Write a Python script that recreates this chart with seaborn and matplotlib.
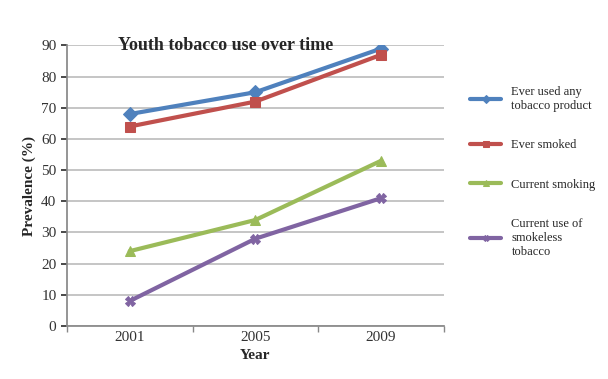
import matplotlib
matplotlib.use("Agg")
import matplotlib.pyplot as plt
import seaborn as sns
import pandas as pd

years = ["2001", "2005", "2009"]
ever_used_any = [68, 75, 89]
ever_smoked = [64, 72, 87]
current_smoking = [24, 34, 53]
current_smokeless = [8, 28, 41]
series_names = ["Ever used any\ntobacco product", "Ever smoked", "Current smoking",
                "Current use of\nsmokeless\ntobacco"]
yticks = list(range(0, 100, 10))

rows = []
for name, vals in zip(series_names, [ever_used_any, ever_smoked, current_smoking, current_smokeless]):
    for i, (yr, v) in enumerate(zip(years, vals)):
        rows.append({"Year": yr, "x": i, "Prevalence": v, "Series": name})
df = pd.DataFrame(rows)

sns.set_theme(style="white")
plt.rcParams['font.family'] = ['Liberation Serif', 'DejaVu Serif']

colors = ["#4F81BD", "#C0504D", "#9BBB59", "#8064A2"]
markers = ["D", "s", "^", "X"]

fig, ax = plt.subplots(figsize=(6.08, 3.79), dpi=100)
fig.subplots_adjust(left=0.11, right=0.73, top=0.88, bottom=0.14)

sns.lineplot(data=df, x="x", y="Prevalence", hue="Series", style="Series",
             palette=colors, markers=markers, dashes=False, linewidth=3,
             markersize=7, ax=ax, markeredgecolor=None)

ax.set_xlim(-0.5, 2.5)
ax.set_ylim(0, 90)
ax.set_yticks(yticks)
ax.set_xticks(range(len(years)))
ax.set_xticklabels(years)
ax.set_xticks([-0.5, 0.5, 1.5, 2.5], minor=True)
ax.tick_params(axis='x', which='minor', length=4, color='#888888', bottom=True)
ax.tick_params(axis='x', which='major', length=0)
ax.tick_params(axis='y', length=4, color='#888888', left=True)
ax.tick_params(labelsize=11, colors='#333333')
ax.yaxis.grid(True, color='#BBBBBB', linewidth=1.2)
for s in ["top", "right"]:
    ax.spines[s].set_visible(False)
for s in ["left", "bottom"]:
    ax.spines[s].set_color('#888888')

ax.set_xlabel("Year", fontsize=11, fontweight='bold')
ax.set_ylabel("Prevalence (%)", fontsize=11, fontweight='bold')
ax.text(0.42, 1.0, "Youth tobacco use over time", transform=ax.transAxes,
        ha='center', va='center', fontsize=13, fontweight='bold')

leg = ax.legend(loc='center left', bbox_to_anchor=(1.04, 0.55), frameon=False,
                fontsize=9, labelspacing=2.2, handlelength=2.5, title=None,
                markerscale=0.6)

fig.savefig("out.png", dpi=100)
